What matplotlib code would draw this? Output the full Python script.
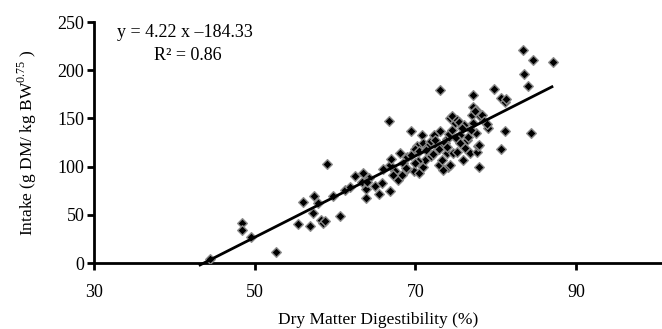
import matplotlib
matplotlib.use("Agg")
import matplotlib.pyplot as plt
import numpy as np

plt.rcParams['font.family'] = ['Liberation Serif', 'DejaVu Serif']
plt.rcParams['mathtext.fontset'] = 'custom'
plt.rcParams['mathtext.rm'] = 'Liberation Serif'

# digestibility (%) / intake (g DM / kg BW^0.75)
digestibilite = [
    44.4, 48.4, 48.4, 49.6, 52.7, 55.4, 56.0, 56.9, 57.2, 57.4, 57.9, 58.2, 58.5, 58.8,
    59.8, 60.6, 61.3, 61.9, 63.3, 63.5, 63.8, 63.9, 64.2, 65.5, 66.7, 66.9, 66.9, 67.5,
    67.9, 68.1, 68.3, 68.9, 69.4, 69.8, 70.2, 70.4, 70.8, 71.0, 71.0, 71.2, 71.8, 72.3,
    72.7, 72.9, 73.1, 73.1, 73.3, 73.5, 73.9, 73.9, 74.1, 74.2, 74.3, 74.3, 74.5, 74.7,
    74.9, 75.2, 75.2, 75.4, 75.6, 75.9, 76.0, 76.2, 76.4, 76.8, 77.0, 77.2, 77.2, 77.2,
    77.6, 77.6, 77.7, 77.8, 77.9, 77.9, 78.1, 78.3, 79.1, 79.8, 80.6, 80.7, 81.1, 81.2,
    81.3, 83.4, 83.5, 84.0, 84.4, 84.6, 87.1,
    59.0, 62.5, 64.0, 65.0, 66.0, 67.0, 68.5, 69.0, 69.5, 70.0, 70.5, 71.5, 72.0, 72.5,
    73.0, 73.7, 74.6, 75.0, 75.8, 76.5, 77.4, 78.6, 70.3, 71.3, 72.2, 68.8, 67.2, 75.5,
    76.9, 73.4, 74.0, 69.9, 65.8, 78.9,
]
ingestion = [
    4.5, 42, 34, 27, 11, 40, 63, 38, 52, 69, 62, 45, 42, 44,
    69, 49, 76, 79, 84, 93, 77, 67, 88, 72, 147, 102, 75, 95,
    86, 114, 91, 110, 137, 95, 121, 93, 133, 124, 100, 107, 126, 133,
    121, 102, 137, 180, 107, 122, 114, 129, 100, 134, 150, 102, 152, 114,
    145, 148, 115, 146, 133, 107, 143, 119, 128, 114, 154, 174, 162, 145,
    135, 159, 115, 121, 100, 122, 152, 154, 140, 181, 171, 118, 137, 167,
    170, 221, 196, 184, 135, 211, 209,
    103, 90, 84, 80, 98, 108, 104, 98, 112, 118, 116, 120, 111, 128,
    118, 125, 138, 130, 140, 131, 158, 147, 106, 117, 113, 99, 91, 124,
    138, 96, 120, 104, 83, 144,
]

pente, ordonnee = 4.22, -184.33
droite_x = np.array([43.2, 87.0])

fig = plt.figure(figsize=(6.62, 3.29), dpi=100)
ax = fig.add_axes([0.142, 0.2006, 0.858, 0.7324])

ax.scatter(digestibilite, ingestion, marker='D', s=24, facecolor='black',
           edgecolor='#8a8a8a', linewidths=1.0, zorder=3)
ax.plot(droite_x, pente * droite_x + ordonnee, color='black', lw=2, zorder=4,
        clip_on=False)

ax.set_xlim(30, 100.7)
ax.set_ylim(0, 250)
ax.set_xticks([30, 50, 70, 90])
ax.set_yticks([0, 50, 100, 150, 200, 250])
for s in ['top', 'right']:
    ax.spines[s].set_visible(False)
for s in ['left', 'bottom']:
    ax.spines[s].set_linewidth(2)
ax.tick_params(axis='both', direction='out', length=5, width=2, labelsize=13)
ax.tick_params(axis='x', pad=10)
ax.tick_params(axis='y', pad=2)

ax.set_xlabel("Dry Matter Digestibility (%)", fontsize=12.5, labelpad=8)
ax.set_ylabel(r"Intake (g DM/ kg BW$^{\mathrm{0.75}}$ )", fontsize=12.5, labelpad=13)

ax.text(0.04, 0.955, "y = 4.22 x \u2013184.33", transform=ax.transAxes,
        fontsize=13, ha='left', va='center')
ax.text(0.166, 0.86, "R\u00b2 = 0.86", transform=ax.transAxes,
        fontsize=13, ha='center', va='center')

fig.savefig("out.png", dpi=100)
